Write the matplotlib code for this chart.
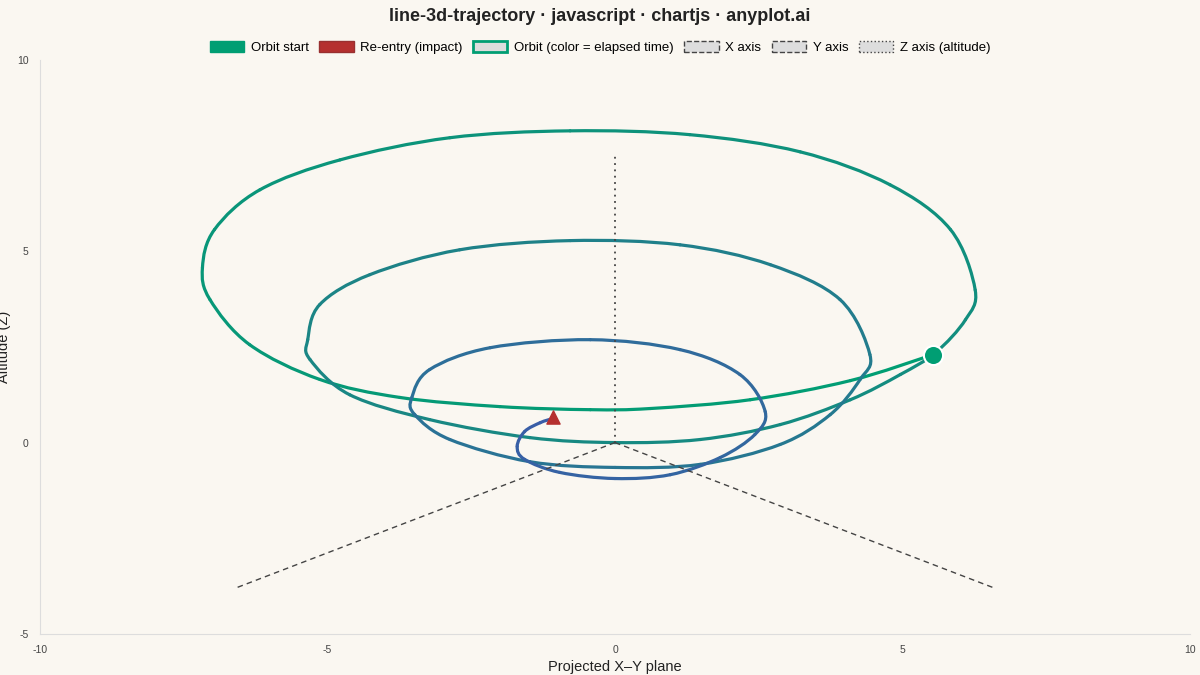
import numpy as np
import matplotlib
matplotlib.use('Agg')
import matplotlib.pyplot as plt
from matplotlib.path import Path
from matplotlib.patches import Patch, PathPatch
from matplotlib.colors import LinearSegmentedColormap

plt.rcParams['font.family'] = ['Liberation Sans', 'DejaVu Sans']
plt.rcParams['axes.unicode_minus'] = False

# Trayectoria proyectada, en orden temporal
traj_x = [5.53, 4.09, 2.35, 0.61, -0.43, -2.0, -3.74, -5.13, -6.35, -7.04, -7.17, -6.96, -6.17, -4.78,
          -2.87, -0.78, 1.30, 3.22, 4.78, 5.83, 6.26, 6.09, 5.57,
          4.96, 4.09, 2.87, 1.48, 0.0, -1.48, -3.22, -4.61, -5.30, -5.34, -5.13, -4.26, -2.70, -0.78,
          1.13, 2.70, 3.91, 4.43, 4.26, 3.74, 2.87, 1.48, 0.0, -1.48, -2.87, -3.48, -3.53, -3.22, -2.17,
          -0.43, 1.13, 2.17, 2.61, 2.43, 1.83, 0.96, 0.0, -0.96, -1.57, -1.70, -1.57, -1.30, -1.08]
traj_y = [2.30, 1.62, 1.12, 0.89, 0.86, 0.94, 1.18, 1.65, 2.56, 3.74, 4.57, 5.57, 6.61, 7.39,
          7.97, 8.15, 8.05, 7.60, 6.74, 5.57, 3.99, 3.21, 2.35,
          1.78, 1.12, 0.47, 0.08, 0.0, 0.13, 0.60, 1.25, 2.17, 2.69, 3.61, 4.39, 5.04, 5.28,
          5.17, 4.65, 3.74, 2.30, 1.65, 0.73, -0.05, -0.57, -0.65, -0.50, 0.08, 0.73, 1.18, 1.91, 2.48,
          2.69, 2.43, 1.78, 0.81, 0.21, -0.39, -0.84, -0.94, -0.78, -0.44, -0.10, 0.29, 0.52, 0.63]

# Ejes 3D proyectados
axis_x_end = (-6.57, -3.79)
axis_y_end = (6.57, -3.79)
axis_z_end = (0.0, 7.58)

bg = '#FAF7F1'
c_start = '#009E73'
c_end = '#3A5DA8'
c_red = '#B5302F'

fig = plt.figure(figsize=(12, 6.75), dpi=100, facecolor=bg)
ax = fig.add_axes([0.033, 0.061, 0.959, 0.85], facecolor=bg)

ax.plot([0, axis_x_end[0]], [0, axis_x_end[1]], ls=(0, (4, 3)), color='#444444', lw=1)
ax.plot([0, axis_y_end[0]], [0, axis_y_end[1]], ls=(0, (4, 3)), color='#444444', lw=1)
ax.plot([0, axis_z_end[0]], [0, axis_z_end[1]], ls=(0, (1, 2.5)), color='#444444', lw=1.3)

# Linea suavizada (tension tipo Chart.js) con color segun el tiempo
pts = np.column_stack([traj_x, traj_y])
cmap = LinearSegmentedColormap.from_list('t', [c_start, '#1B8585', c_end])
n = len(pts)
for i in range(n - 1):
    p0 = pts[max(i - 1, 0)]
    p1 = pts[i]
    p2 = pts[i + 1]
    p3 = pts[min(i + 2, n - 1)]
    c1 = p1 + (p2 - p0) / 6
    c2 = p2 - (p3 - p1) / 6
    path = Path([p1, c1, c2, p2], [Path.MOVETO, Path.CURVE4, Path.CURVE4, Path.CURVE4])
    ax.add_patch(PathPatch(path, fill=False, lw=2.3, edgecolor=cmap(i / (n - 2)), capstyle='round'))

ax.scatter([traj_x[0]], [traj_y[0]], s=190, color=c_start, edgecolor='white', lw=1.5, zorder=5)
ax.scatter([traj_x[-1]], [traj_y[-1] + 0.05], s=90, marker='^', color=c_red, zorder=5)

ax.set_xlim(-10, 10)
ax.set_ylim(-5, 10)
ax.set_xticks([-10, -5, 0, 5, 10])
ax.set_yticks([-5, 0, 5, 10])
ax.tick_params(length=0, labelsize=7.5, labelcolor='#444444', pad=8)
for s in ['top', 'right']:
    ax.spines[s].set_visible(False)
for s in ['left', 'bottom']:
    ax.spines[s].set_color('#DDDDDD')
ax.set_xlabel('Projected X–Y plane', fontsize=10.5, color='#222222', labelpad=4)
ax.set_ylabel('Altitude (Z)', fontsize=10.5, color='#222222', labelpad=6)
ax.yaxis.set_label_coords(-0.025, 0.5)

handles = [
    Patch(facecolor=c_start, edgecolor=c_start, label='Orbit start'),
    Patch(facecolor=c_red, edgecolor='#993030', label='Re-entry (impact)'),
    Patch(facecolor='#DDDDDD', edgecolor=c_start, lw=2, label='Orbit (color = elapsed time)'),
    Patch(facecolor='#DDDDDD', edgecolor='#444444', ls='--', label='X axis'),
    Patch(facecolor='#DDDDDD', edgecolor='#444444', ls='--', label='Y axis'),
    Patch(facecolor='#DDDDDD', edgecolor='#444444', ls=':', label='Z axis (altitude)'),
]
fig.legend(handles=handles, loc='center', bbox_to_anchor=(0.5, 0.93), ncol=6, frameon=False,
           fontsize=9.5, handlelength=2.6, handleheight=1.0, columnspacing=0.8, handletextpad=0.5)
fig.text(0.5, 0.975, 'line-3d-trajectory · javascript · chartjs · anyplot.ai', ha='center', va='center',
         fontsize=13, fontweight='bold', color='#222222')

fig.savefig('out.png', dpi=100, facecolor=bg)
